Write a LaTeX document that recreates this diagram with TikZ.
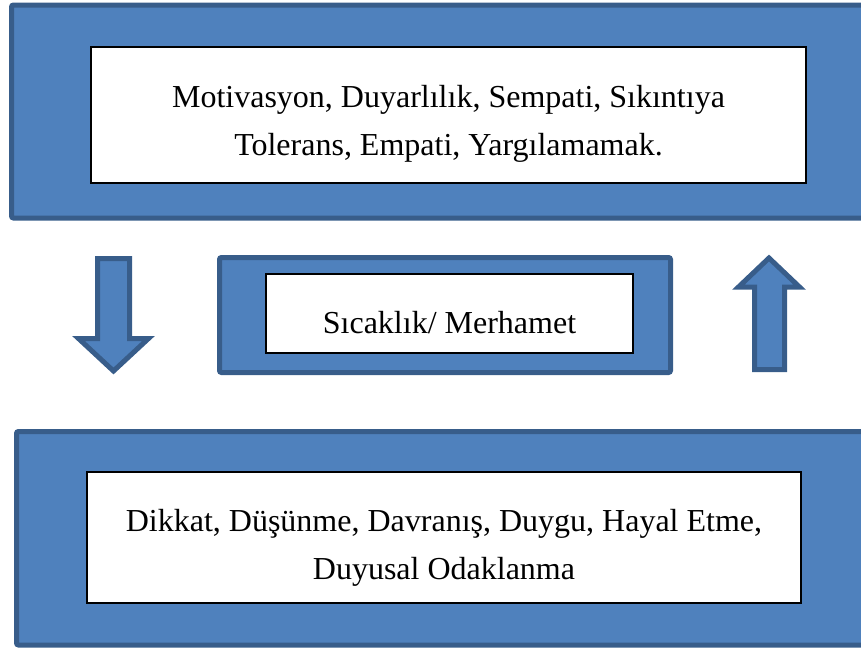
\documentclass[tikz,border=0pt]{standalone}
\usepackage{fontspec}
\setmainfont{Liberation Serif}
\definecolor{blockfill}{HTML}{4F81BD}
\definecolor{blockline}{HTML}{385D8A}
\tikzset{
  frame/.style={draw=blockline, fill=blockfill, line width=3.75pt, rounded corners=1.5pt},
  textbox/.style={draw=black, fill=white, line width=1pt, inner sep=0pt},
  boxtext/.style={inner sep=0pt, align=center, font=\fontsize{24}{36}\selectfont},
  blockarrow/.style={draw=blockline, fill=blockfill, line width=3.75pt, line join=miter}
}
\begin{document}
\begin{tikzpicture}[x=0.75pt,y=-0.75pt]
\useasboundingbox (0,0) rectangle (861,651);
\clip (0,0) rectangle (861,651);
% outer frames
\draw[frame] (11.5,5) rectangle (880,218);
\draw[frame] (219.5,257.5) rectangle (670.5,372.5);
\draw[frame] (16.5,431.5) rectangle (880,645);
% inner boxes
\node[textbox, minimum width=536.25pt, minimum height=102pt] (top) at (448.5,115) {};
\node[textbox, minimum width=275.25pt, minimum height=59.25pt] (mid) at (449.5,313.5) {};
\node[textbox, minimum width=535.5pt, minimum height=98.25pt] (bot) at (444,537.5) {};
% texts
\node[boxtext] (toptext) at ([yshift=-6.75pt]top.center)
  {Motivasyon, Duyarlılık, Sempati, Sıkıntıya\\Tolerans, Empati, Yargılamamak.};
\node[boxtext] (midtext) at ([yshift=-6.5pt]mid.center) {Sıcaklık/ Merhamet};
\node[boxtext] (bottext) at ([yshift=-7.5pt]bot.center)
  {Dikkat, Düşünme, Davranış, Duygu, Hayal Etme,\\Duyusal Odaklanma};
% block arrows
\draw[blockarrow] (97.5,258.5) -- (129.5,258.5) -- (129.5,338.5) -- (148.5,338.5)
  -- (113.5,371) -- (78.5,338.5) -- (97.5,338.5) -- cycle;
\draw[blockarrow] (769,258) -- (799.5,287) -- (784.5,287) -- (784.5,369.5)
  -- (754.5,369.5) -- (754.5,287) -- (738.5,287) -- cycle;
\end{tikzpicture}
\end{document}
